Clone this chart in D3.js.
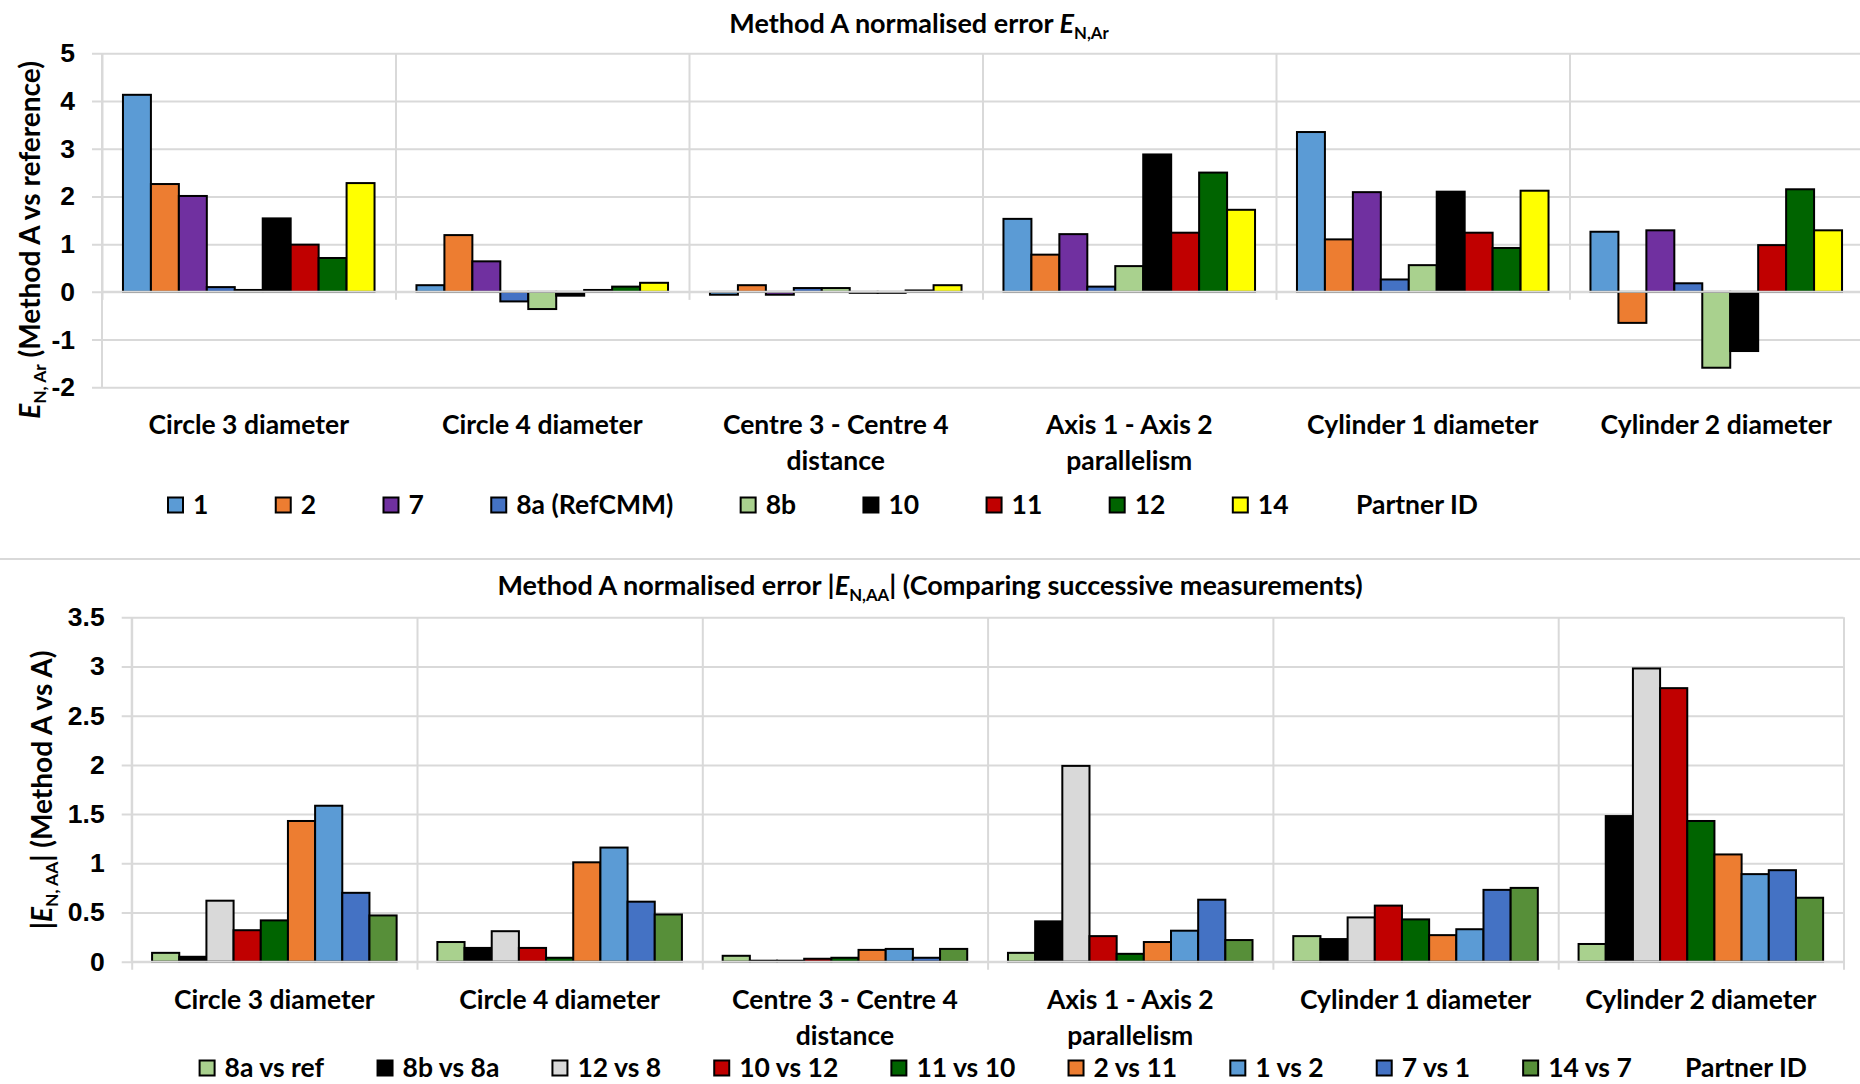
<!DOCTYPE html>
<html>
<head>
<meta charset="utf-8">
<script src="https://cdn.jsdelivr.net/npm/d3@7"></script>
<style>
  body { margin: 0; background: #fff; }
  svg { display: block; font-family: Lato, "Open Sans", sans-serif; }
  text { fill: #000; font-weight: bold; }
</style>
</head>
<body>
<svg id="chart"></svg>
<script>
// categories shared by both panels
const categories = ["Circle 3 diameter", "Circle 4 diameter", "Centre 3 - Centre 4 distance",
  "Axis 1 - Axis 2 parallelism", "Cylinder 1 diameter", "Cylinder 2 diameter"];

// top panel: E_N,Ar per partner
const topSeries = ["1", "2", "7", "8a (RefCMM)", "8b", "10", "11", "12", "14"];
const topColors = ["#5b9bd5", "#ed7d31", "#7030a0", "#4472c4", "#a9d18e", "#000000", "#c00000", "#006400", "#ffff00"];
const topValues = [
  [4.13, 0.14, -0.06, 1.53, 3.35, 1.26],
  [2.26, 1.19, 0.14, 0.78, 1.10, -0.65],
  [2.01, 0.64, -0.06, 1.21, 2.09, 1.29],
  [0.10, -0.20, 0.08, 0.11, 0.26, 0.18],
  [0.04, -0.36, 0.08, 0.54, 0.56, -1.59],
  [1.54, -0.08, -0.02, 2.88, 2.10, -1.24],
  [0.99, 0.04, -0.02, 1.24, 1.24, 0.98],
  [0.71, 0.11, 0.03, 2.50, 0.92, 2.15],
  [2.28, 0.19, 0.14, 1.72, 2.12, 1.29]
];
const topTicks = [-2, -1, 0, 1, 2, 3, 4, 5];

// bottom panel: |E_N,AA| successive measurements
const botSeries = ["8a vs ref", "8b vs 8a", "12 vs 8", "10 vs 12", "11 vs 10", "2 vs 11", "1 vs 2", "7 vs 1", "14 vs 7"];
const botColors = ["#a9d18e", "#000000", "#d9d9d9", "#c00000", "#006400", "#ed7d31", "#5b9bd5", "#4472c4", "#578f39"];
const botValues = [
  [0.09, 0.20, 0.06, 0.09, 0.26, 0.18],
  [0.05, 0.14, 0.01, 0.41, 0.23, 1.48],
  [0.62, 0.31, 0.01, 1.99, 0.45, 2.98],
  [0.32, 0.14, 0.03, 0.26, 0.57, 2.78],
  [0.42, 0.04, 0.04, 0.08, 0.43, 1.43],
  [1.43, 1.01, 0.12, 0.20, 0.27, 1.09],
  [1.585, 1.16, 0.13, 0.315, 0.33, 0.89],
  [0.70, 0.61, 0.04, 0.63, 0.73, 0.93],
  [0.47, 0.48, 0.13, 0.22, 0.75, 0.65]
];
const botTicks = [0, 0.5, 1, 1.5, 2, 2.5, 3, 3.5];

const legendExtra = "Partner ID";

const W = 1860, H = 1084;
const grid = "#d9d9d9";
const fs = 26.5;

const svg = d3.select("#chart").attr("width", W).attr("height", H);

//rich text with italic and subscript parts
function rich(sel, parts) {
  let shift = 0;
  parts.forEach(p => {
    const t = sel.append("tspan").text(p.t);
    if (p.k === "i") t.attr("font-style", "italic");
    if (p.k === "sub") {
      t.attr("font-size", "0.62em").attr("dy", 6);
      shift = 6;
    } else if (shift) {
      t.attr("dy", -shift);
      shift = 0;
    }
  });
}

//wrap category labels like excel does
function wrap(text, width, lineH) {
  text.each(function () {
    const t = d3.select(this);
    const words = t.text().split(/\s+/);
    const x = t.attr("x");
    t.text(null);
    let line = [];
    let tspan = t.append("tspan").attr("x", x).attr("dy", 0);
    words.forEach(w => {
      line.push(w);
      tspan.text(line.join(" "));
      if (tspan.node().getComputedTextLength() > width && line.length > 1) {
        line.pop();
        tspan.text(line.join(" "));
        line = [w];
        tspan = t.append("tspan").attr("x", x).attr("dy", lineH).text(w);
      }
    });
  });
}

function drawPanel(o) {
  const g = svg.append("g");
  const plotW = o.catW * categories.length;
  const right = o.left + plotW;

  const y = d3.scaleLinear().domain(o.yDomain).range([o.bottom, o.top]);
  const x0 = d3.scaleBand().domain(categories).range([o.left, right]);
  const x1 = d3.scaleBand().domain(o.series).range([0, x0.bandwidth()]).paddingOuter(0.75);
  const xIdx = d3.scaleLinear().domain([0, categories.length]).range([o.left, right]);

  //horizontal grid lines, with outside ticks
  g.append("g")
    .attr("transform", `translate(${right},0)`)
    .call(d3.axisLeft(y).tickValues(o.ticks).tickSize(plotW + 10).tickFormat(""))
    .call(a => a.select(".domain").remove())
    .call(a => a.selectAll("line").attr("stroke", grid).attr("stroke-width", 2));

  //vertical category dividers, crossing the category axis
  g.append("g")
    .attr("transform", `translate(0,${o.top})`)
    .call(d3.axisBottom(xIdx).tickValues(d3.range(categories.length + 1))
      .tickSize(y(0) - o.top + 8).tickFormat(""))
    .call(a => a.select(".domain").remove())
    .call(a => a.selectAll("line").attr("stroke", grid).attr("stroke-width", 2));

  //y-axis line
  g.append("line")
    .attr("x1", o.left).attr("x2", o.left)
    .attr("y1", y(o.yDomain[0])).attr("y2", y(o.yDomain[1]))
    .attr("stroke", grid).attr("stroke-width", 2);

  //y tick labels
  g.append("g")
    .attr("transform", `translate(${o.left},0)`)
    .call(d3.axisLeft(y).tickValues(o.ticks).tickSize(0).tickPadding(27).tickFormat(d => String(d)))
    .call(a => a.select(".domain").remove())
    .call(a => a.selectAll("text").attr("font-size", fs).attr("font-family", null).style("fill", "#000"));

  //bars
  o.series.forEach((s, si) => {
    g.append("g")
      .selectAll("rect")
      .data(o.values[si])
      .join("rect")
      .attr("x", (d, ci) => x0(categories[ci]) + x1(s))
      .attr("y", d => y(Math.max(0, d)))
      .attr("width", x1.bandwidth())
      .attr("height", d => Math.abs(y(d) - y(0)))
      .attr("fill", o.colors[si])
      .attr("stroke", "#000")
      .attr("stroke-width", 2);
  });

  //category axis line
  g.append("line")
    .attr("x1", o.left).attr("x2", right)
    .attr("y1", y(0)).attr("y2", y(0))
    .attr("stroke", grid).attr("stroke-width", 2);

  //category labels
  g.append("g")
    .selectAll("text")
    .data(categories)
    .join("text")
    .attr("x", d => x0(d) + x0.bandwidth() / 2)
    .attr("y", o.catY)
    .attr("text-anchor", "middle")
    .attr("font-size", fs)
    .text(d => d)
    .call(wrap, x0.bandwidth() - 16, 36);

  //chart title
  const title = g.append("text")
    .attr("x", o.titleX).attr("y", o.titleY)
    .attr("text-anchor", "middle")
    .attr("font-size", 27);
  rich(title, o.title);

  //y-axis title
  const yt = g.append("text")
    .attr("transform", `translate(${o.yTitleX},${o.yTitleY}) rotate(-90)`)
    .attr("text-anchor", "middle")
    .attr("font-size", 28);
  rich(yt, o.yTitle);

  //legend, spread between start and end
  const items = o.series.concat([legendExtra]);
  const lg = g.append("g");
  const nodes = items.map((name, i) => {
    const it = lg.append("g");
    const hasMark = i < o.series.length;
    if (hasMark) {
      it.append("rect")
        .attr("x", 0).attr("y", -7.5)
        .attr("width", 15).attr("height", 15)
        .attr("fill", o.colors[i])
        .attr("stroke", "#000").attr("stroke-width", 2);
    }
    it.append("text")
      .attr("x", hasMark ? 25 : 0)
      .attr("y", 8.5)
      .attr("font-size", fs)
      .text(name);
    return it;
  });
  const widths = nodes.map(n => n.node().getBBox().width);
  const gap = (o.legendEnd - o.legendStart - d3.sum(widths)) / (items.length - 1);
  let lx = o.legendStart;
  nodes.forEach((n, i) => {
    n.attr("transform", `translate(${lx},${o.legendY})`);
    lx += widths[i] + gap;
  });
}

drawPanel({
  series: topSeries, colors: topColors, values: topValues,
  yDomain: [-2, 5], ticks: topTicks,
  left: 102, catW: 293.5, top: 53.3, bottom: 387.3,
  catY: 434,
  title: [{t: "Method A normalised error "}, {t: "E", k: "i"}, {t: "N,Ar", k: "sub"}],
  titleX: 919, titleY: 33,
  yTitle: [{t: "E", k: "i"}, {t: "N, Ar", k: "sub"}, {t: " (Method A vs reference)"}],
  yTitleX: 40, yTitleY: 240,
  legendY: 505, legendStart: 168, legendEnd: 1478
});

//separator between the two charts
svg.append("line")
  .attr("x1", 0).attr("x2", W)
  .attr("y1", 559).attr("y2", 559)
  .attr("stroke", grid).attr("stroke-width", 2);

drawPanel({
  series: botSeries, colors: botColors, values: botValues,
  yDomain: [0, 3.5], ticks: botTicks,
  left: 131.7, catW: 285.3, top: 617.3, bottom: 961.7,
  catY: 1009,
  title: [{t: "Method A normalised error |"}, {t: "E", k: "i"}, {t: "N,AA", k: "sub"},
    {t: "| (Comparing successive measurements)"}],
  titleX: 930, titleY: 595,
  yTitle: [{t: "|"}, {t: "E", k: "i"}, {t: "N, AA", k: "sub"}, {t: "| (Method A vs A)"}],
  yTitleX: 52, yTitleY: 790,
  legendY: 1068, legendStart: 199.6, legendEnd: 1807
});
</script>
</body>
</html>
